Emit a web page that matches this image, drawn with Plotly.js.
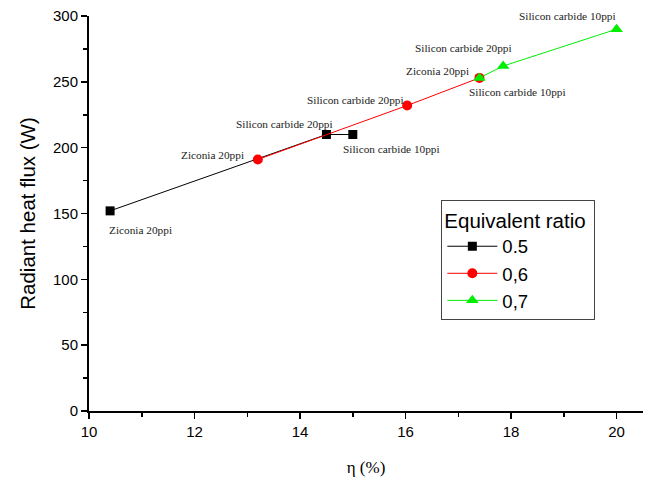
<!DOCTYPE html>
<html>
<head>
<meta charset="utf-8">
<script src="https://cdn.plot.ly/plotly-3.0.1.min.js"></script>
<style>body{margin:0;background:#fff}#chart{width:649px;height:484px}</style>
</head>
<body>
<div id="chart"></div>
<script>
const seriesNames = ["0.5", "0,6", "0,7"];
const eta05 = [10.4, 14.5, 15.0];
const flux05 = [152, 210, 210];
const labels05 = ["Ziconia 20ppi", "Silicon carbide 20ppi", "Silicon carbide 10ppi"];
const eta06 = [13.2, 16.03, 17.4];
const flux06 = [191, 232, 253];
const labels06 = ["Ziconia 20ppi", "Silicon carbide 20ppi", "Silicon carbide 10ppi"];
const eta07 = [17.4, 17.85, 20.0];
const flux07 = [253, 262, 290];
const labels07 = ["Ziconia 20ppi", "Silicon carbide 20ppi", "Silicon carbide 10ppi"];

// label offsets (px) per point
const off05 = [[30, -19], [-42, 11], [39, -14]];
const off06 = [[-45, 5], [-52, 6], [38, -14]];
const off07 = [[-42, 7], [-40, 18], [-49, 13]];

const traces = [
  {x: eta05, y: flux05, name: seriesNames[0], mode: "lines+markers",
   line: {color: "#000000", width: 1}, marker: {symbol: "square", size: 9, color: "#000000"}},
  {x: eta06, y: flux06, name: seriesNames[1], mode: "lines+markers",
   line: {color: "#ff0000", width: 1}, marker: {symbol: "circle", size: 10, color: "#ff0000"}},
  {x: eta07, y: flux07, name: seriesNames[2], mode: "lines+markers",
   line: {color: "#00ee00", width: 1}, marker: {symbol: "triangle-up", size: 11, color: "#00ee00"}}
];

const annotations = [];
function addLabels(xs, ys, ls, offs) {
  xs.forEach((x, i) => {
    annotations.push({x: x, y: ys[i], text: ls[i], showarrow: false,
      xshift: offs[i][0], yshift: offs[i][1],
      font: {family: "Liberation Serif, Times New Roman, serif", size: 11.3, color: "#222"}});
  });
}
addLabels(eta05, flux05, labels05, off05);
addLabels(eta06, flux06, labels06, off06);
addLabels(eta07, flux07, labels07, off07);

const layout = {
  width: 649, height: 484,
  margin: {l: 89, r: 6, t: 16, b: 73},
  paper_bgcolor: "#fff", plot_bgcolor: "#fff",
  showlegend: true,
  legend: {x: 0.636, y: 0.534, xanchor: "left", yanchor: "top",
    bordercolor: "#444", borderwidth: 1, bgcolor: "#fff",
    title: {text: "Equivalent ratio ", font: {family: "Arial, Liberation Sans, sans-serif", size: 20.5, color: "#000"}},
    font: {family: "Arial, Liberation Sans, sans-serif", size: 18.5, color: "#000"},
    itemwidth: 50, tracegroupgap: 0},
  xaxis: {range: [10, 20.5], tick0: 10, dtick: 2, ticks: "outside", ticklen: 6, tickwidth: 1.5,
    tickcolor: "#000", showline: true, linecolor: "#000", linewidth: 2, showgrid: false, zeroline: false,
    minor: {dtick: 1, ticks: "outside", ticklen: 4, tickwidth: 1.5, tickcolor: "#000", showgrid: false},
    tickfont: {family: "Arial, Liberation Sans, sans-serif", size: 15, color: "#000"},
    title: {text: "η (%)", font: {family: "Liberation Serif, Times New Roman, serif", size: 17, color: "#000"}, standoff: 22}},
  yaxis: {range: [0, 300], dtick: 50, ticks: "outside", ticklen: 6, tickwidth: 1.5,
    tickcolor: "#000", showline: true, linecolor: "#000", linewidth: 2, showgrid: false, zeroline: false,
    minor: {dtick: 25, ticks: "outside", ticklen: 4, tickwidth: 1.5, tickcolor: "#000", showgrid: false},
    tickfont: {family: "Arial, Liberation Sans, sans-serif", size: 15, color: "#000"},
    title: {text: "Radiant heat flux (W)", font: {family: "Arial, Liberation Sans, sans-serif", size: 20.5, color: "#000"}, standoff: 12}},
  annotations: annotations
};

Plotly.newPlot("chart", traces, layout, {displayModeBar: false, staticPlot: true});
</script>
</body>
</html>
